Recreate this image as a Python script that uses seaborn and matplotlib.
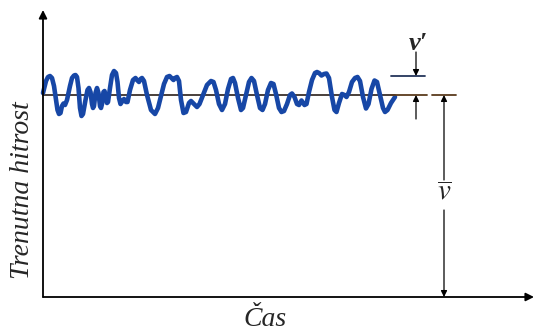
import pandas as pd
import matplotlib
matplotlib.use("Agg")
import matplotlib.pyplot as plt
import seaborn as sns

# time samples and instantaneous velocity
time = [0, 3, 5, 7, 9, 11, 13, 14.5, 16, 17.5, 19, 20.5, 22, 24, 27, 29, 31, 32.5,
        34, 35.5, 37, 38.5, 40, 42.5, 44.5, 46, 47.5, 49, 50, 51, 52.5, 54, 55.5, 57,
        58, 59, 60.5, 61.5, 62.5, 64, 65, 67, 69, 71, 73, 74.5, 76, 77.5, 79.5, 81,
        83, 84.5, 87, 90, 92.5, 94, 96, 97.5, 99, 101, 104, 108, 112, 115, 118, 121,
        124, 126.5, 128.5, 130.5, 132, 134, 136, 138, 140.5, 143, 146, 148, 151, 154,
        156.5, 160, 164, 168, 170.5, 173, 176, 179, 182, 185, 188, 190, 192, 195, 198,
        200, 203, 206, 208.5, 211, 214, 217, 219.5, 222, 225, 228, 230.5, 233, 236,
        238.5, 241, 244, 247, 249, 251.5, 254, 256, 258.5, 261.5, 263.5, 266, 269, 272,
        274, 276, 278.5, 281, 283.5, 286, 289, 291.5, 293.5, 296, 299, 301.5, 303.5,
        306, 309, 312, 314.5, 317, 320, 323, 325.5, 328.5, 331.5, 334, 337, 340, 342,
        344.5, 348, 352]
velocity = [204, 216, 220, 221, 219, 211, 197, 187, 183, 184, 191, 193.5, 192, 197,
            211, 219, 221.5, 222, 220, 209, 189, 181, 183, 197, 207, 209, 205, 193, 189,
            191, 204, 209, 204, 191, 189, 193, 205, 206, 202, 194, 195, 209, 222, 226,
            224, 215, 199, 193, 196, 198, 195, 195, 207, 217, 219, 217, 215, 218, 219,
            216, 202, 187, 183, 189, 201, 213, 220, 221, 219, 217, 219, 220, 216, 197,
            184, 185, 194, 196, 193, 190, 193, 202, 212, 216, 215, 207, 193, 187, 193,
            208, 218, 219, 214, 199, 187, 189, 202, 215, 219, 216, 202, 189, 187, 193,
            207, 214, 213, 203, 189, 185, 186, 193, 202, 203.5, 200, 193, 192, 196.5,
            192, 193, 205, 217, 224, 225, 224, 221.5, 223, 223.5, 219, 200, 187, 185,
            194, 203, 202, 200, 205, 215, 219, 220, 216, 200, 188.5, 193, 208, 216.5,
            215, 202, 189, 185, 187, 194, 200]
mean_v = 202
v_prime = 19

df = pd.DataFrame({"t": time, "v": velocity})

sns.set_style("white")
plt.rcParams["font.family"] = ["Liberation Serif", "DejaVu Serif"]

fig = plt.figure(figsize=(5.35, 3.31), dpi=100)
ax = fig.add_axes([0, 0, 1, 1])
ax.set_xlim(-43, 492)
ax.set_ylim(-34, 297)
ax.axis("off")

# mean line through the signal
ax.plot([0, 352], [mean_v, mean_v], color="#2a1f1a", lw=1.2, zorder=1)

# the fluctuating signal
sns.lineplot(data=df, x="t", y="v", ax=ax, color="#1747a6", lw=3.3,
             solid_joinstyle="round", solid_capstyle="round", zorder=2)

# reference lines on the right
ax.plot([348, 384], [mean_v, mean_v], color="#5a3b1e", lw=1.3)
ax.plot([389, 413], [mean_v, mean_v], color="#5a3b1e", lw=1.3)
ax.plot([348, 382], [mean_v + v_prime, mean_v + v_prime], color="#24355a", lw=1.3)

arrow = dict(arrowstyle="-|>", color="black", lw=0.9, mutation_scale=9,
             shrinkA=0, shrinkB=0)

# axes with arrow heads
ax.annotate("", xy=(0, 287), xytext=(0, 0), arrowprops=dict(arrow, lw=1.3, mutation_scale=12))
ax.annotate("", xy=(491, 0), xytext=(0, 0), arrowprops=dict(arrow, lw=1.3, mutation_scale=12))

# v' markers
ax.annotate("", xy=(373, mean_v + v_prime), xytext=(373, 245), arrowprops=arrow)
ax.annotate("", xy=(373, mean_v), xytext=(373, 178), arrowprops=arrow)
ax.text(375, 254, "v\u2032", fontsize=19, style="italic", weight="bold",
        ha="center", va="center")

# v-bar markers
ax.annotate("", xy=(401, mean_v), xytext=(401, 117), arrowprops=arrow)
ax.annotate("", xy=(401, 0), xytext=(401, 87), arrowprops=arrow)
ax.text(401, 104, "$\\overline{v}$", fontsize=21, ha="center", va="center",
        math_fontfamily="stix")

ax.text(-20, 107, "Trenutna hitrost", fontsize=20, style="italic", rotation=90,
        ha="center", va="center")
ax.text(222, -22, "\u010cas", fontsize=20, style="italic", ha="center", va="center")

fig.savefig("out.png", dpi=100)
